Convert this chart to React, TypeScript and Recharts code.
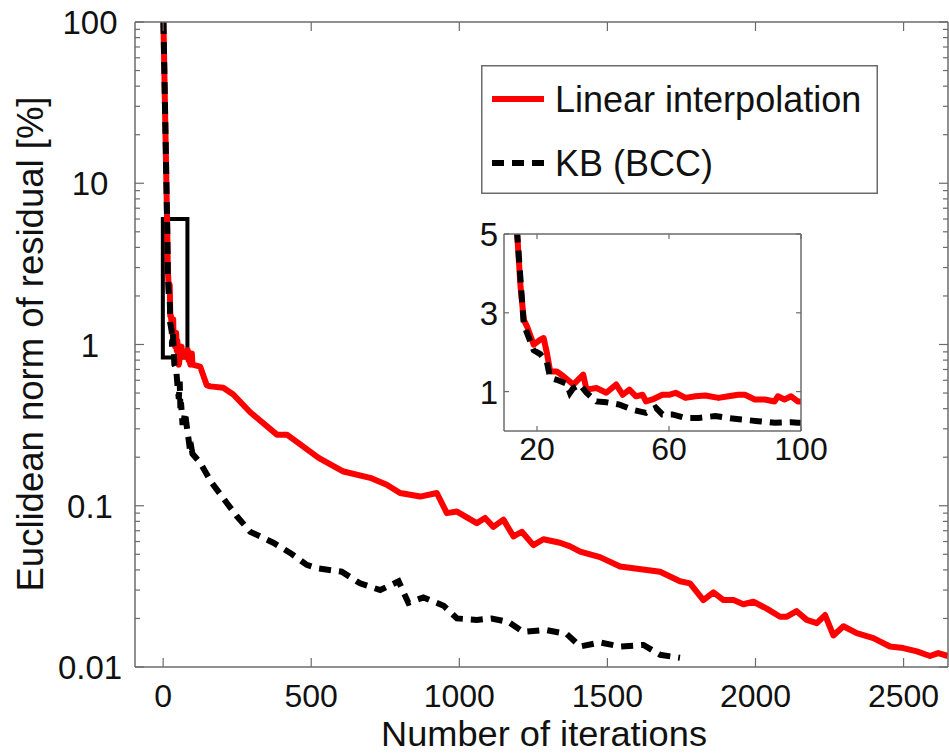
import React from 'react';
import { LineChart, Line, XAxis, YAxis, ReferenceArea, Legend } from 'recharts';

// [iteration, residual %]
const linearInterpolation: [number, number][] = [
  [1, 100], [8, 20], [12, 8], [14, 5], [15, 3.67], [16, 2.82], [17, 2.65], [19, 2.19], [21, 2.32],
  [22, 2.36], [23, 1.98], [24, 1.51], [26, 1.51], [28, 1.39], [31, 1.18], [34, 1.43], [35, 1.05],
  [38, 1.09], [41, 0.97], [44, 1.18], [46, 0.92], [48, 1.05], [50, 0.88], [52, 0.92], [53, 0.75],
  [55, 0.8], [58, 0.92], [60, 0.92], [62, 0.97], [65, 0.84], [68, 0.88], [71, 0.9], [75, 0.84],
  [78, 0.88], [81, 0.92], [83, 0.92], [86, 0.8], [89, 0.8], [92, 0.75], [93, 0.88], [95, 0.8],
  [97, 0.88], [99, 0.75], [125, 0.73], [147, 0.56], [159, 0.55], [203, 0.54], [237, 0.49],
  [294, 0.38], [384, 0.276], [418, 0.276], [463, 0.24], [525, 0.198], [609, 0.163], [699, 0.149],
  [755, 0.135], [800, 0.12], [868, 0.114], [924, 0.12], [958, 0.09], [992, 0.092], [1059, 0.078],
  [1087, 0.084], [1115, 0.074], [1149, 0.082], [1183, 0.0645], [1211, 0.069], [1250, 0.057],
  [1284, 0.062], [1340, 0.059], [1374, 0.056], [1408, 0.052], [1475, 0.048], [1543, 0.042],
  [1588, 0.041], [1633, 0.04], [1678, 0.039], [1745, 0.034], [1779, 0.033], [1824, 0.026],
  [1858, 0.029], [1892, 0.026], [1926, 0.026], [1959, 0.0245], [1993, 0.0254], [2038, 0.023],
  [2083, 0.0205], [2106, 0.0205], [2139, 0.0222], [2173, 0.0196], [2207, 0.0187], [2235, 0.021],
  [2263, 0.0157], [2297, 0.0179], [2342, 0.0162], [2398, 0.0151], [2454, 0.0134], [2499, 0.0131],
  [2545, 0.0125], [2589, 0.0117], [2617, 0.0122], [2650, 0.0117],
];

const kbBcc: [number, number][] = [
  [1, 100], [8, 20], [12, 8], [14, 5], [16, 2.7], [19, 2.05], [21, 1.95], [23, 1.75], [24, 1.35],
  [26, 1.3], [29, 1.2], [30, 0.97], [31, 1.09], [33, 1.18], [35, 0.97], [38, 0.75], [41, 0.73],
  [45, 0.67], [49, 0.54], [53, 0.46], [56, 0.59], [58, 0.42], [61, 0.42], [65, 0.33], [69, 0.33],
  [74, 0.38], [78, 0.33], [82, 0.29], [87, 0.25], [92, 0.21], [97, 0.22], [99, 0.21],
  [125, 0.185], [164, 0.139], [215, 0.104], [249, 0.086], [294, 0.069], [372, 0.059], [429, 0.051],
  [485, 0.043], [519, 0.041], [603, 0.039], [665, 0.033], [733, 0.03], [795, 0.034], [828, 0.025],
  [879, 0.027], [947, 0.024], [992, 0.02], [1059, 0.0196], [1109, 0.02], [1166, 0.019],
  [1216, 0.0165], [1290, 0.017], [1363, 0.016], [1408, 0.0134], [1475, 0.0142], [1543, 0.0134],
  [1622, 0.0137], [1678, 0.0119], [1745, 0.0114],
];

const seriesNames = ['Linear interpolation', 'KB (BCC)'];
const mainXTicks = [0, 500, 1000, 1500, 2000, 2500];
const mainYMajor = [0.01, 0.1, 1, 10, 100];
const insetXTicks = [20, 60, 100];
const insetYTicks = [1, 3, 5];
const zoomBox = { x1: -1, x2: 82, y1: 0.83, y2: 6 };

const mainYAll = [
  ...mainYMajor,
  ...mainYMajor.slice(0, -1).flatMap((d) => [2, 3, 4, 5, 6, 7, 8, 9].map((m) => +(d * m).toPrecision(3))),
];

const linearData = linearInterpolation.map(([x, y]) => ({ x, y }));
const kbData = kbBcc.map(([x, y]) => ({ x, y }));

const FONT = '"Liberation Sans", Arial, Helvetica, sans-serif';
const AXIS = '#6b6b6b';
const RED = '#ff0000';
const DASH = '12 8';
const axisLine = { stroke: AXIS, strokeWidth: 1.5 };

const isMajor = (v: number) => Math.abs(Math.log10(v) - Math.round(Math.log10(v))) < 1e-6;

function LeftTick({ x, y, payload, log, labelX, anchor, len = 9 }: any) {
  const v = payload.value;
  const major = log ? isMajor(v) : true;
  return (
    <g>
      <line x1={x} x2={x + (major ? len : 5)} y1={y} y2={y} stroke={AXIS} strokeWidth={1.2} />
      {major && (
        <text x={x + labelX} y={y + 12} textAnchor={anchor} fontSize={33} fontFamily={FONT} fill="#111">
          {String(v)}
        </text>
      )}
    </g>
  );
}

function RightTick({ x, y, payload, log, len = 9 }: any) {
  const major = log ? isMajor(payload.value) : true;
  return <line x1={x} x2={x - (major ? len : 5)} y1={y} y2={y} stroke={AXIS} strokeWidth={1.2} />;
}

function BottomTick({ x, y, payload, dy, len = 9 }: any) {
  return (
    <g>
      <line x1={x} x2={x} y1={y} y2={y - len} stroke={AXIS} strokeWidth={1.2} />
      <text x={x} y={y + dy} textAnchor="middle" fontSize={32} fontFamily={FONT} fill="#111">
        {String(payload.value)}
      </text>
    </g>
  );
}

function TopTick({ x, y, len = 9 }: any) {
  return <line x1={x} x2={x} y1={y} y2={y + len} stroke={AXIS} strokeWidth={1.2} />;
}

const XTitle = () => (
  <text x={544} y={746} textAnchor="middle" fontSize={35} textLength={326} lengthAdjust="spacingAndGlyphs" fontFamily={FONT} fill="#111">
    Number of iterations
  </text>
);

const YTitle = () => (
  <text
    transform="translate(43,344) rotate(-90)"
    textAnchor="middle"
    fontSize={36}
    textLength={495}
    lengthAdjust="spacingAndGlyphs"
    fontFamily={FONT}
    fill="#111"
  >
    Euclidean norm of residual [%]
  </text>
);

function LegendBox({ payload }: any) {
  const items = seriesNames.map((n) => (payload || []).find((p: any) => p.value === n)).filter(Boolean);
  return (
    <svg width={397} height={129} style={{ display: 'block' }}>
      <rect x={0.75} y={0.75} width={395.5} height={127.5} fill="#fff" stroke={AXIS} strokeWidth={1.5} />
      {items.map((e: any, i: number) => {
        const cy = i === 0 ? 34 : 98;
        return (
          <g key={e.value}>
            <line
              x1={11}
              x2={63}
              y1={cy}
              y2={cy}
              stroke={e.color}
              strokeWidth={6}
              strokeDasharray={e.payload?.strokeDasharray}
            />
            <text x={74} y={cy + 13} fontSize={36} fontFamily={FONT} fill="#111">
              {e.value}
            </text>
          </g>
        );
      })}
    </svg>
  );
}

export default function App() {
  return (
    <div style={{ position: 'absolute', left: 0, top: 0, width: 949, height: 754, background: '#fff', overflow: 'hidden' }}>
      <div style={{ position: 'absolute', left: 0, top: 0 }}>
        <LineChart width={949} height={754} margin={{ top: 21, right: 0, bottom: 0, left: 0 }}>
          <XAxis
            dataKey="x"
            type="number"
            domain={[-95, 2650]}
            ticks={mainXTicks}
            allowDataOverflow
            interval={0}
            height={87}
            tickSize={0}
            tickMargin={0}
            tickLine={false}
            axisLine={axisLine}
            tick={<BottomTick dy={40} />}
            label={<XTitle />}
          />
          <XAxis
            xAxisId="top"
            orientation="top"
            dataKey="x"
            type="number"
            domain={[-95, 2650]}
            ticks={mainXTicks}
            allowDataOverflow
            interval={0}
            height={1}
            tickSize={0}
            tickMargin={0}
            tickLine={false}
            axisLine={axisLine}
            tick={<TopTick />}
          />
          <YAxis
            scale="log"
            type="number"
            domain={[0.01, 100]}
            ticks={mainYAll}
            allowDataOverflow
            interval={0}
            width={135}
            tickSize={0}
            tickMargin={0}
            tickLine={false}
            axisLine={axisLine}
            tick={<LeftTick log labelX={-45} anchor="middle" />}
            label={<YTitle />}
          />
          <YAxis
            yAxisId="right"
            orientation="right"
            scale="log"
            type="number"
            domain={[0.01, 100]}
            ticks={mainYAll}
            allowDataOverflow
            interval={0}
            width={1}
            tickSize={0}
            tickMargin={0}
            tickLine={false}
            axisLine={axisLine}
            tick={<RightTick log />}
          />
          <Line
            data={linearData}
            dataKey="y"
            name={seriesNames[0]}
            type="linear"
            stroke={RED}
            strokeWidth={6}
            strokeLinejoin="round"
            dot={false}
            isAnimationActive={false}
          />
          <Line
            data={kbData}
            dataKey="y"
            name={seriesNames[1]}
            type="linear"
            stroke="#000"
            strokeWidth={6}
            strokeDasharray={DASH}
            dot={false}
            isAnimationActive={false}
          />
          <ReferenceArea
            x1={zoomBox.x1}
            x2={zoomBox.x2}
            y1={zoomBox.y1}
            y2={zoomBox.y2}
            fill="none"
            fillOpacity={0}
            stroke="#000"
            strokeWidth={4}
            ifOverflow="visible"
          />
          <Legend
            layout="horizontal"
            verticalAlign="middle"
            align="center"
            wrapperStyle={{ left: 481, top: 65, width: 397, height: 129 }}
            content={<LegendBox />}
          />
        </LineChart>
      </div>

      <div style={{ position: 'absolute', left: 440, top: 215 }}>
        <LineChart width={400} height={260} margin={{ top: 18, right: 38, bottom: 0, left: 0 }}>
          <XAxis
            dataKey="x"
            type="number"
            domain={[10, 100]}
            ticks={insetXTicks}
            allowDataOverflow
            interval={0}
            height={44}
            tickSize={0}
            tickMargin={0}
            tickLine={false}
            axisLine={axisLine}
            tick={<BottomTick dy={29} len={5} />}
          />
          <XAxis
            xAxisId="top"
            orientation="top"
            dataKey="x"
            type="number"
            domain={[10, 100]}
            ticks={insetXTicks}
            allowDataOverflow
            interval={0}
            height={1}
            tickSize={0}
            tickMargin={0}
            tickLine={false}
            axisLine={axisLine}
            tick={<TopTick len={5} />}
          />
          <YAxis
            type="number"
            domain={[0, 5]}
            ticks={insetYTicks}
            allowDataOverflow
            interval={0}
            width={64}
            tickSize={0}
            tickMargin={0}
            tickLine={false}
            axisLine={axisLine}
            tick={<LeftTick labelX={-6} anchor="end" len={5} />}
          />
          <YAxis
            yAxisId="right"
            orientation="right"
            type="number"
            domain={[0, 5]}
            ticks={insetYTicks}
            allowDataOverflow
            interval={0}
            width={1}
            tickSize={0}
            tickMargin={0}
            tickLine={false}
            axisLine={axisLine}
            tick={<RightTick len={5} />}
          />
          <Line
            data={linearData.filter((d) => d.x <= 130)}
            dataKey="y"
            type="linear"
            stroke={RED}
            strokeWidth={6}
            strokeLinejoin="round"
            dot={false}
            isAnimationActive={false}
          />
          <Line
            data={kbData.filter((d) => d.x <= 130)}
            dataKey="y"
            type="linear"
            stroke="#000"
            strokeWidth={6}
            strokeDasharray={DASH}
            dot={false}
            isAnimationActive={false}
          />
        </LineChart>
      </div>
    </div>
  );
}
